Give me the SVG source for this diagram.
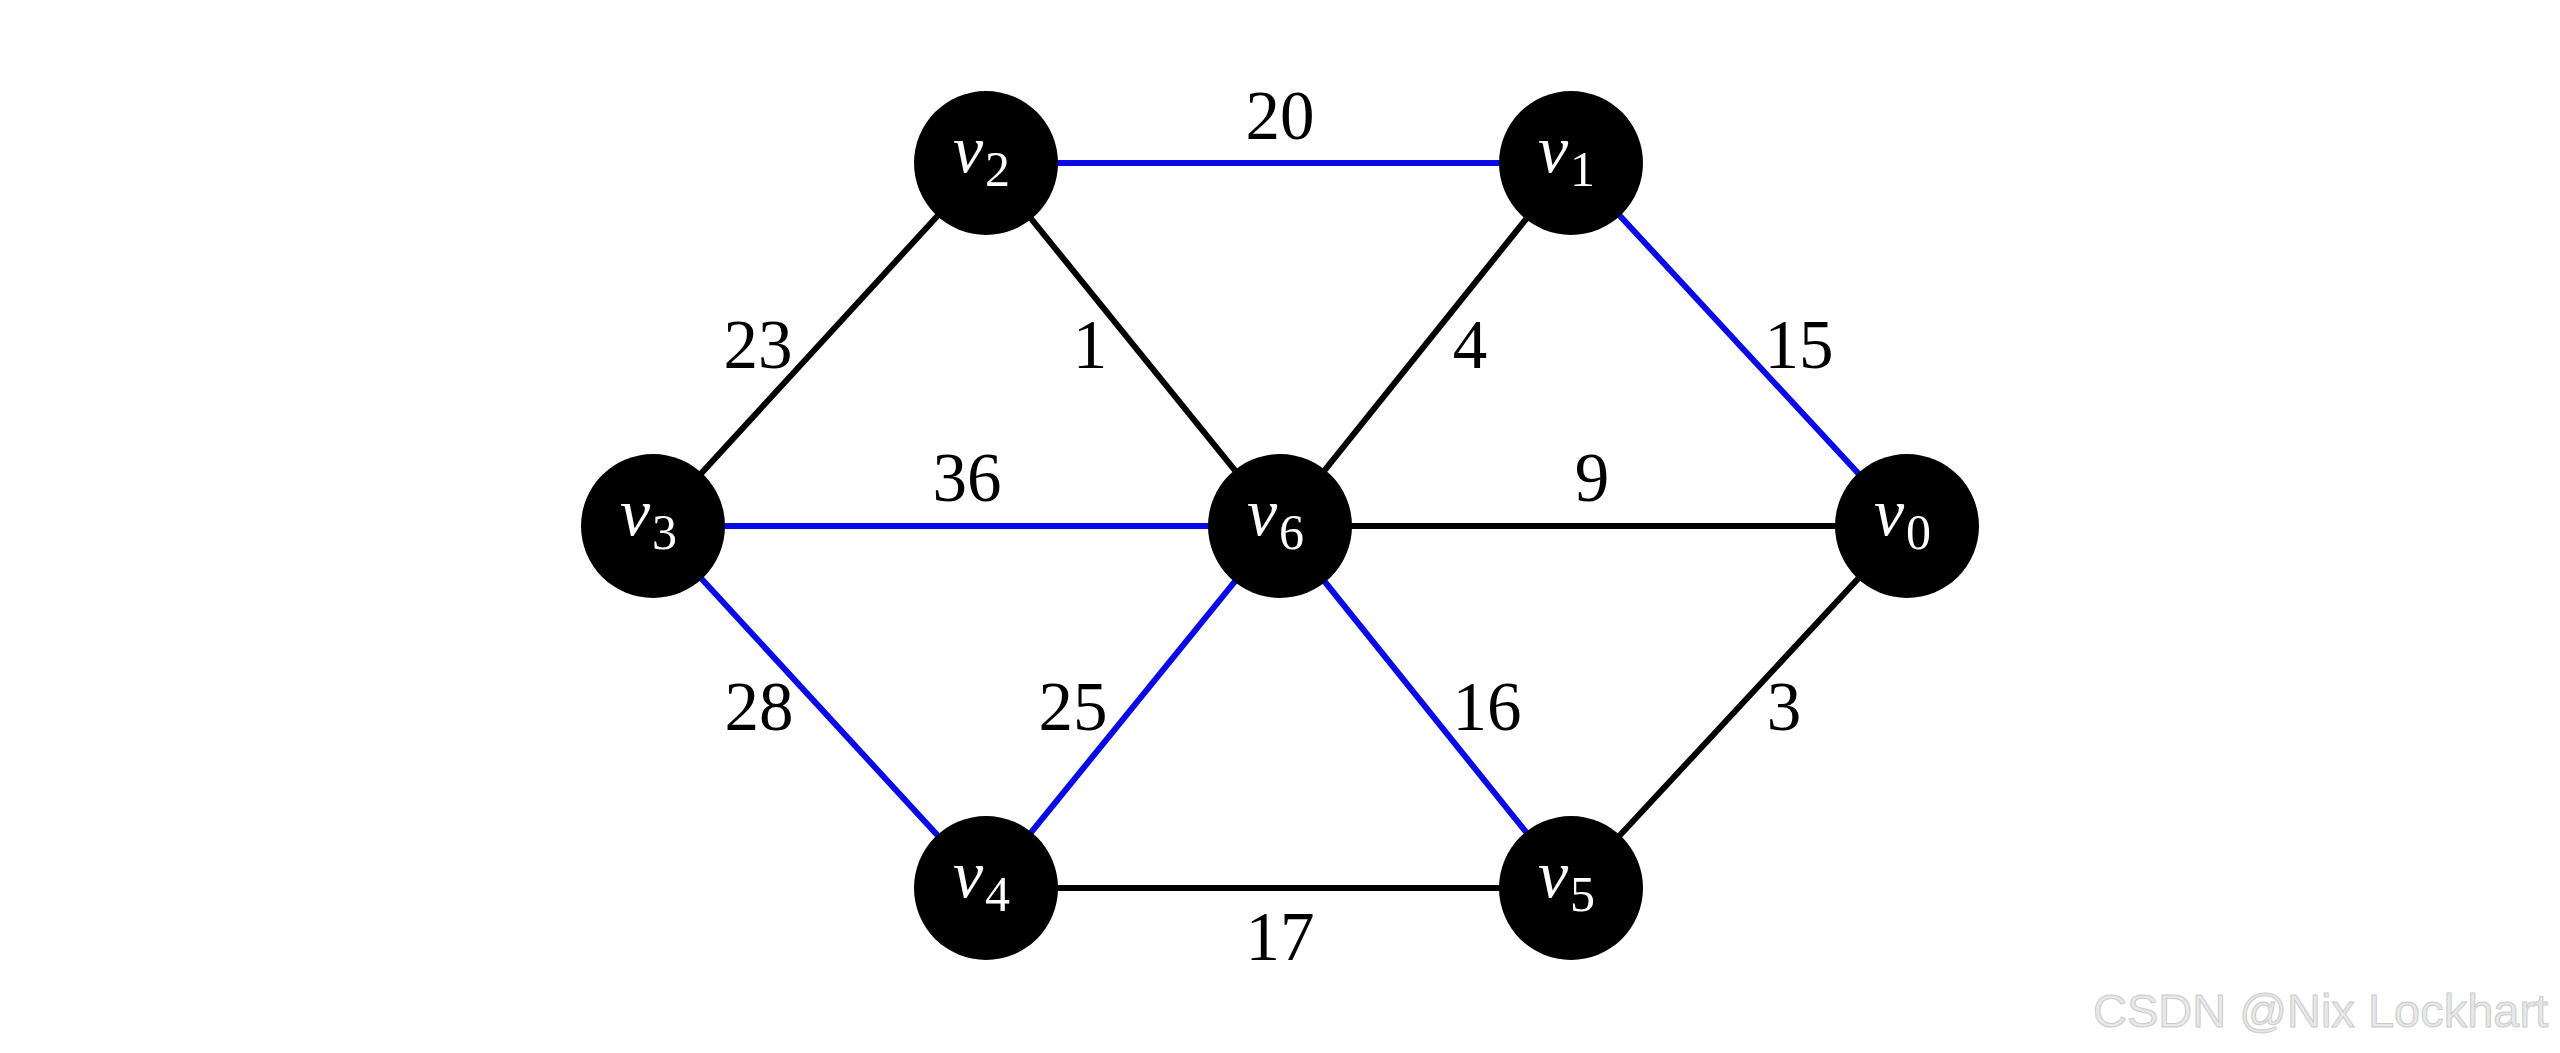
<svg xmlns="http://www.w3.org/2000/svg" width="2560" height="1053" viewBox="0 0 2560 1053">
<style>
.e{stroke-width:6;stroke-linecap:butt;fill:none}
.k{stroke:#000}
.b{stroke:#0a0ae6}
.n{fill:#000}
.v{font-family:"Liberation Serif","DejaVu Serif",serif;font-style:italic;font-size:68px;fill:#fff}
.s{font-family:"Liberation Serif","DejaVu Serif",serif;font-size:50px;fill:#fff}
.w{font-family:"Liberation Serif","DejaVu Serif",serif;font-size:69px;fill:#000;text-anchor:middle}
.wm{font-family:"Liberation Sans",Arial,sans-serif;font-size:47px;fill:#e8e8e8;stroke:#cccccc;stroke-width:1}
</style>
<rect width="2560" height="1053" fill="#fff"/>
<g id="edges">
<line class="e b" x1="986" y1="163" x2="1571" y2="163"/>
<line class="e b" x1="1571" y1="163" x2="1907" y2="526"/>
<line class="e k" x1="986" y1="163" x2="653" y2="526"/>
<line class="e k" x1="986" y1="163" x2="1280" y2="526"/>
<line class="e k" x1="1571" y1="163" x2="1280" y2="526"/>
<line class="e b" x1="653" y1="526" x2="1280" y2="526"/>
<line class="e k" x1="1280" y1="526" x2="1907" y2="526"/>
<line class="e b" x1="653" y1="526" x2="986" y2="888"/>
<line class="e b" x1="986" y1="888" x2="1280" y2="526"/>
<line class="e b" x1="1280" y1="526" x2="1571" y2="888"/>
<line class="e k" x1="1907" y1="526" x2="1571" y2="888"/>
<line class="e k" x1="986" y1="888" x2="1571" y2="888"/>
</g>
<g id="edge-labels">
<text class="w" x="1280" y="139">20</text>
<text class="w" x="758" y="368">23</text>
<text class="w" x="1090" y="368">1</text>
<text class="w" x="1470" y="368">4</text>
<text class="w" x="1799" y="368">15</text>
<text class="w" x="967" y="501">36</text>
<text class="w" x="1592" y="501">9</text>
<text class="w" x="759" y="730">28</text>
<text class="w" x="1073" y="730">25</text>
<text class="w" x="1487" y="730">16</text>
<text class="w" x="1784" y="730">3</text>
<text class="w" x="1280" y="960">17</text>
</g>
<g id="v0"><circle class="n" cx="1907" cy="526" r="72"/><text class="v" x="1874" y="535">v</text><text class="s" x="1906" y="549">0</text></g>
<g id="v1"><circle class="n" cx="1571" cy="163" r="72"/><text class="v" x="1538" y="172">v</text><text class="s" x="1570" y="186">1</text></g>
<g id="v2"><circle class="n" cx="986" cy="163" r="72"/><text class="v" x="953" y="172">v</text><text class="s" x="985" y="186">2</text></g>
<g id="v3"><circle class="n" cx="653" cy="526" r="72"/><text class="v" x="620" y="535">v</text><text class="s" x="652" y="549">3</text></g>
<g id="v4"><circle class="n" cx="986" cy="888" r="72"/><text class="v" x="953" y="897">v</text><text class="s" x="985" y="911">4</text></g>
<g id="v5"><circle class="n" cx="1571" cy="888" r="72"/><text class="v" x="1538" y="897">v</text><text class="s" x="1570" y="911">5</text></g>
<g id="v6"><circle class="n" cx="1280" cy="526" r="72"/><text class="v" x="1247" y="535">v</text><text class="s" x="1279" y="549">6</text></g>
<text class="wm" x="2093" y="1027">CSDN @Nix Lockhart</text>
</svg>
